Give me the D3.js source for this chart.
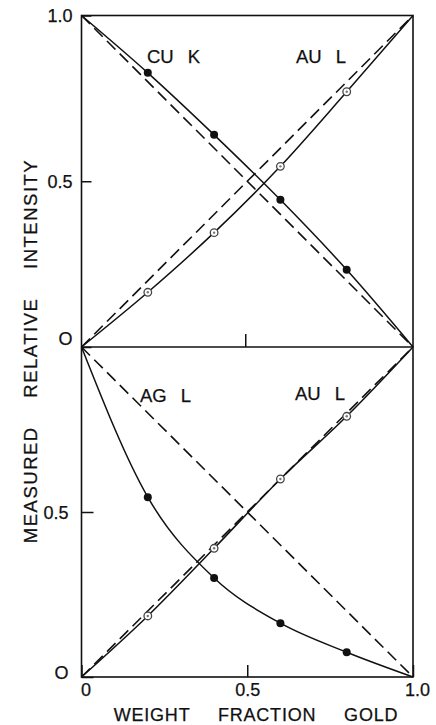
<!DOCTYPE html>
<html>
<head>
<meta charset="utf-8">
<script src="https://cdn.jsdelivr.net/npm/d3@7"></script>
<style>
  html, body { margin: 0; padding: 0; background: #fff; }
  svg { display: block; }
  text { font-family: "Liberation Sans", Arial, sans-serif; fill: #111; stroke: #111; stroke-width: 0.25px; }
</style>
</head>
<body>
<svg id="chart" width="436" height="725"></svg>
<script>
// Weight fraction of gold in the alloy
const fraction = [0.2, 0.4, 0.6, 0.8];

// Upper panel: Au–Cu alloys
const cuK = [0.827, 0.640, 0.444, 0.233];
const auLcu = [0.165, 0.345, 0.545, 0.770];

// Lower panel: Au–Ag alloys
const agL = [0.545, 0.300, 0.163, 0.075];
const auLag = [0.185, 0.390, 0.600, 0.790];

// Axis tick labels
const xTicks = [0, 0.5, 1];
const xTickLabels = ["0", "0.5", "1.0"];
const yTopTicks = [0, 0.5, 1];
const yTopLabels = ["O", "0.5", "1.0"];
const yBotTicks = [0, 0.5];
const yBotLabels = ["O", "0.5"];

const svg = d3.select("#chart");
const ink = "#111";

const x = d3.scaleLinear().domain([0, 1]).range([81.5, 413]);
const yTop = d3.scaleLinear().domain([0, 1]).range([347, 15.5]);
const yBot = d3.scaleLinear().domain([0, 1]).range([677, 347]);

// Pure-element end points complete each measured curve
const withEnds = (vals, start, end) =>
  [[0, start], ...fraction.map((f, i) => [f, vals[i]]), [1, end]];

function panel(y, series) {
  const g = svg.append("g");
  // ideal (linear) relations, dashed
  const lineY = d3.line().x(d => x(d[0])).y(d => y(d[1]));
  [[[0, 1], [1, 0]], [[0, 0], [1, 1]]].forEach(pts => {
    g.append("path").attr("d", lineY(pts))
      .attr("fill", "none").attr("stroke", ink)
      .attr("stroke-width", 1.6).attr("stroke-dasharray", "12,6");
  });
  // measured curves
  const curve = d3.line().x(d => x(d[0])).y(d => y(d[1])).curve(d3.curveMonotoneX);
  series.forEach(s => {
    g.append("path").attr("d", curve(withEnds(s.vals, s.start, s.end)))
      .attr("fill", "none").attr("stroke", ink).attr("stroke-width", 1.5);
    fraction.forEach((f, i) => {
      if (s.filled) {
        g.append("circle").attr("cx", x(f)).attr("cy", y(s.vals[i]))
          .attr("r", 4).attr("fill", ink);
      } else {
        g.append("circle").attr("cx", x(f)).attr("cy", y(s.vals[i]))
          .attr("r", 3.8).attr("fill", "#fff").attr("stroke", "#444").attr("stroke-width", 1.3);
        g.append("circle").attr("cx", x(f)).attr("cy", y(s.vals[i]))
          .attr("r", 1.2).attr("fill", "#777");
      }
    });
  });
  return g;
}

panel(yTop, [
  { vals: cuK, start: 1, end: 0, filled: true },
  { vals: auLcu, start: 0, end: 1, filled: false }
]);
panel(yBot, [
  { vals: agL, start: 1, end: 0, filled: true },
  { vals: auLag, start: 0, end: 1, filled: false }
]);

// Frame
const frame = svg.append("g").attr("stroke", ink).attr("stroke-width", 1.6).attr("fill", "none");
frame.append("rect").attr("x", x(0)).attr("y", yTop(1))
  .attr("width", x(1) - x(0)).attr("height", yBot(0) - yTop(1));
frame.append("line").attr("x1", x(0)).attr("x2", x(1)).attr("y1", yTop(0)).attr("y2", yTop(0));

function styleAxis(g) {
  g.select(".domain").remove();
  g.selectAll(".tick line").attr("stroke", ink).attr("stroke-width", 1.5);
  g.selectAll(".tick text").attr("font-size", 18).style("fill", ink);
}

// Bottom x axis with labels
svg.append("g").attr("transform", `translate(0,${yBot(0)})`)
  .call(d3.axisBottom(x).tickValues(xTicks).tickSizeInner(-12).tickSizeOuter(0)
    .tickPadding(6).tickFormat((d, i) => xTickLabels[i]))
  .call(styleAxis)
  .call(g => g.selectAll(".tick text").attr("dx", (d, i) => i === 0 ? 4 : i === 2 ? 4 : 0));

// Tick on the dividing line
svg.append("g").attr("transform", `translate(0,${yTop(0)})`)
  .call(d3.axisBottom(x).tickValues([0.5]).tickSizeInner(-13).tickSizeOuter(0).tickFormat(""))
  .call(styleAxis)
  .call(g => g.selectAll(".tick").attr("transform", `translate(${x(0.5) - 1.5},0)`));

// Left axes
svg.append("g").attr("transform", `translate(${x(0)},0)`)
  .call(d3.axisLeft(yTop).tickValues(yTopTicks).tickSizeInner(-10).tickSizeOuter(0)
    .tickPadding(9).tickFormat((d, i) => yTopLabels[i]))
  .call(styleAxis)
  .call(g => g.selectAll(".tick text").attr("dy", (d, i) => i === 0 ? "-0.15em" : "0.34em"));

svg.append("g").attr("transform", `translate(${x(0)},0)`)
  .call(d3.axisLeft(yBot).tickValues(yBotTicks).tickSizeInner(-12).tickSizeOuter(0)
    .tickPadding(13).tickFormat((d, i) => yBotLabels[i]))
  .call(styleAxis)
  .call(g => g.selectAll(".tick text").attr("dy", (d, i) => i === 0 ? "0.1em" : "0.34em"));

// Series labels
const labels = [
  { t: "CU K", x: 147, y: 63 },
  { t: "AU L", x: 296, y: 63 },
  { t: "AG L", x: 140, y: 402 },
  { t: "AU L", x: 295, y: 400 }
];
svg.append("g").selectAll("text").data(labels).join("text")
  .attr("x", d => d.x).attr("y", d => d.y)
  .attr("font-size", 18.5).attr("word-spacing", 9)
  .text(d => d.t);

// Axis titles
svg.append("text")
  .attr("x", 256).attr("y", 721).attr("text-anchor", "middle")
  .attr("font-size", 18).attr("letter-spacing", 0.8).attr("word-spacing", 22)
  .text("WEIGHT FRACTION GOLD");

svg.append("text")
  .attr("transform", "translate(37,351) rotate(-90)")
  .attr("text-anchor", "middle")
  .attr("font-size", 18.5).attr("letter-spacing", 1.5).attr("word-spacing", 22)
  .text("MEASURED RELATIVE INTENSITY");
</script>
</body>
</html>
